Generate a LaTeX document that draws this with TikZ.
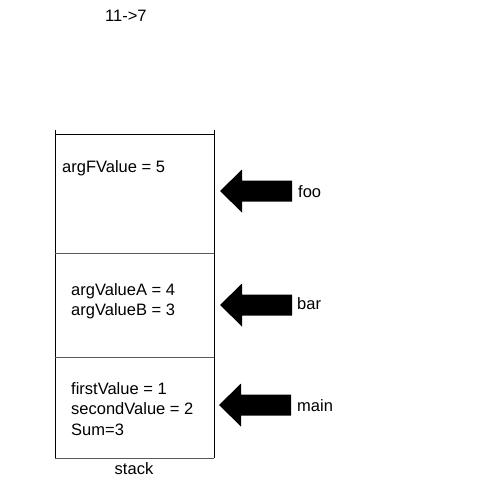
\documentclass[tikz,border=0pt]{standalone}
\usepackage{fontspec}
\setmainfont{Liberation Sans}
\begin{document}
\begin{tikzpicture}[x=1pt,y=-1pt,
  txt/.style={anchor=base west,inner sep=0pt,font=\fontsize{16.5}{20}\selectfont},
  ctxt/.style={anchor=base,inner sep=0pt,font=\fontsize{16.5}{20}\selectfont},
  wall/.style={draw=black,line width=1pt},
  divider/.style={draw=black!65,line width=1pt},
  callarrow/.pic={\fill[black] (0,0) -- (22,-21.5) -- (22,-10.5) -- (72,-10.5) -- (72,10.5) -- (22,10.5) -- (22,21.5) -- cycle;}
]
\useasboundingbox (0,0) rectangle (500,488);
\fill[white] (0,0) rectangle (500,488);
% title
\node[txt] (title) at (105,21) {11->7};
% stack frame
\coordinate (tl) at (55,130);
\coordinate (bl) at (55,458);
\coordinate (tr) at (214,130);
\coordinate (br) at (214,458);
\draw[wall] (tl) -- (bl);
\draw[wall] (tr) -- (br);
\coordinate (h1l) at (55,134); \coordinate (h1r) at (214,134);
\coordinate (h2l) at (55,253); \coordinate (h2r) at (214,253);
\coordinate (h3l) at (55,357); \coordinate (h3r) at (214,357);
\draw[wall] (h1l) -- (h1r);
\draw[divider] (h2l) -- (h2r);
\draw[divider] (h3l) -- (h3r);
\draw[divider] (bl) -- (br);
% frame contents
\node[txt] (fooA) at (62,172) {argFValue = 5};
\node[txt] (barA) at (71,295) {argValueA = 4};
\node[txt] (barB) at (71,315) {argValueB = 3};
\node[txt] (mainA) at (71,394) {firstValue = 1};
\node[txt] (mainB) at (71,414.5) {secondValue = 2};
\node[txt] (mainC) at (71,435) {Sum=3};
\node[ctxt] (stack) at (134,474) {stack};
% arrows
\pic at (220,191) {callarrow};
\pic at (220,305) {callarrow};
\pic at (219,405) {callarrow};
\node[txt] (foo) at (298,197) {foo};
\node[txt] (bar) at (297,309) {bar};
\node[txt] (main) at (297,411) {main};
\end{tikzpicture}
\end{document}
